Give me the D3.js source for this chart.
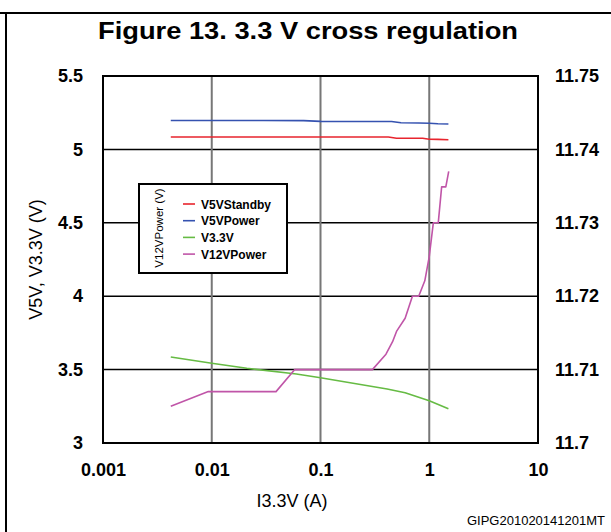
<!DOCTYPE html>
<html>
<head>
<meta charset="utf-8">
<script src="https://cdn.jsdelivr.net/npm/d3@7"></script>
<style>
  body { margin: 0; background: #fff; }
  svg { display: block; font-family: "Liberation Sans", Arial, sans-serif; }
</style>
</head>
<body>
<svg id="chart" width="611" height="532"></svg>
<script>
// data
const xTicks = [0.001, 0.01, 0.1, 1, 10];
const xTickLabels = ["0.001", "0.01", "0.1", "1", "10"];
const leftTicks = [3, 3.5, 4, 4.5, 5, 5.5];
const leftTickLabels = ["3", "3.5", "4", "4.5", "5", "5.5"];
const rightTicks = [11.7, 11.71, 11.72, 11.73, 11.74, 11.75];
const rightTickLabels = ["11.7", "11.71", "11.72", "11.73", "11.74", "11.75"];

const standbyI = [0.0042, 0.01, 0.03, 0.1, 0.2, 0.3, 0.42, 0.5, 0.7, 0.87, 1.0, 1.2, 1.5];
const standbyV = [5.084, 5.084, 5.084, 5.084, 5.084, 5.084, 5.084, 5.076, 5.076, 5.076, 5.069, 5.068, 5.066];

const powerI = [0.0042, 0.01, 0.03, 0.07, 0.1, 0.2, 0.3, 0.45, 0.55, 0.8, 1.0, 1.2, 1.5];
const powerV = [5.197, 5.197, 5.197, 5.196, 5.191, 5.19, 5.19, 5.19, 5.182, 5.18, 5.178, 5.175, 5.173];

const v33I = [0.0042, 0.01, 0.021, 0.06, 0.1, 0.41, 0.6, 1.0, 1.5];
const v33V = [3.586, 3.543, 3.509, 3.47, 3.445, 3.368, 3.342, 3.288, 3.234];

const v12I = [0.0042, 0.0093, 0.039, 0.058, 0.30, 0.40, 0.46, 0.50, 0.60, 0.70, 0.80, 0.91, 1.0, 1.09, 1.21, 1.30, 1.42, 1.51];
const v12V = [11.705, 11.707, 11.707, 11.71, 11.71, 11.7121, 11.7138, 11.7152, 11.717, 11.72, 11.72, 11.7221, 11.7254, 11.73, 11.73, 11.7349, 11.7349, 11.737];

const seriesNames = ["V5VStandby", "V5VPower", "V3.3V", "V12VPower"];
const seriesColors = ["#e8252e", "#3552b0", "#66bb44", "#c055a8"];

const svg = d3.select("#chart");
const W = 611, H = 532;
const plot = { left: 103, right: 538, top: 76, bottom: 443 };

const x = d3.scaleLog().domain([0.001, 10]).range([plot.left, plot.right]);
const yL = d3.scaleLinear().domain([3, 5.5]).range([plot.bottom, plot.top]);
const yR = d3.scaleLinear().domain([11.7, 11.75]).range([plot.bottom, plot.top]);

// outer frame (top + left)
svg.append("line").attr("x1", 0).attr("x2", W).attr("y1", 13).attr("y2", 13)
  .attr("stroke", "#000").attr("stroke-width", 2);
svg.append("line").attr("x1", 6).attr("x2", 6).attr("y1", 12).attr("y2", H)
  .attr("stroke", "#000").attr("stroke-width", 2);

// title
svg.append("text")
  .attr("x", 308).attr("y", 39)
  .attr("text-anchor", "middle")
  .attr("font-size", 23).attr("font-weight", "bold")
  .attr("textLength", 420).attr("lengthAdjust", "spacingAndGlyphs")
  .text("Figure 13. 3.3 V cross regulation");

// grid
svg.append("g").selectAll("line").data(leftTicks.slice(1, -1)).join("line")
  .attr("x1", plot.left).attr("x2", plot.right)
  .attr("y1", d => yL(d)).attr("y2", d => yL(d))
  .attr("stroke", "#000").attr("stroke-width", 1.5);
svg.append("g").selectAll("line").data(xTicks.slice(1, -1)).join("line")
  .attr("x1", d => x(d)).attr("x2", d => x(d))
  .attr("y1", plot.top).attr("y2", plot.bottom)
  .attr("stroke", "#777").attr("stroke-width", 2);

svg.append("rect")
  .attr("x", plot.left).attr("y", plot.top)
  .attr("width", plot.right - plot.left).attr("height", plot.bottom - plot.top)
  .attr("fill", "none").attr("stroke", "#000").attr("stroke-width", 2);

// axes
function styleAxis(g) {
  g.select(".domain").remove();
  g.selectAll(".tick line").remove();
  g.selectAll("text")
    .attr("font-family", "Liberation Sans, Arial, sans-serif")
    .attr("font-size", 18).attr("font-weight", "bold").attr("fill", "#000");
}

svg.append("g")
  .attr("transform", `translate(${plot.left},0)`)
  .call(d3.axisLeft(yL).tickValues(leftTicks).tickFormat((d, i) => leftTickLabels[i]).tickSize(0).tickPadding(20))
  .call(styleAxis);

svg.append("g")
  .attr("transform", `translate(${plot.right},0)`)
  .call(d3.axisRight(yR).tickValues(rightTicks).tickFormat((d, i) => rightTickLabels[i]).tickSize(0).tickPadding(17))
  .call(styleAxis);

svg.append("g")
  .attr("transform", `translate(0,${plot.bottom})`)
  .call(d3.axisBottom(x).tickValues(xTicks).tickFormat((d, i) => xTickLabels[i]).tickSize(0).tickPadding(20))
  .call(styleAxis);

// axis titles
svg.append("text")
  .attr("transform", `translate(42,${(plot.top + plot.bottom) / 2}) rotate(-90)`)
  .attr("text-anchor", "middle").attr("font-size", 18)
  .text("V5V, V3.3V (V)");
svg.append("text")
  .attr("x", 292).attr("y", 507)
  .attr("text-anchor", "middle").attr("font-size", 18)
  .text("I3.3V (A)");
svg.append("text")
  .attr("x", 605).attr("y", 525)
  .attr("text-anchor", "end").attr("font-size", 13)
  .text("GIPG201020141201MT");

// series
const lineL = d3.line().x(d => x(d[0])).y(d => yL(d[1]));
const lineR = d3.line().x(d => x(d[0])).y(d => yR(d[1]));
const series = [
  { pts: d3.zip(standbyI, standbyV), gen: lineL },
  { pts: d3.zip(powerI, powerV), gen: lineL },
  { pts: d3.zip(v33I, v33V), gen: lineL },
  { pts: d3.zip(v12I, v12V), gen: lineR }
];
series.forEach((s, i) => {
  svg.append("path")
    .attr("d", s.gen(s.pts))
    .attr("fill", "none")
    .attr("stroke", seriesColors[i])
    .attr("stroke-width", 1.6)
    .attr("stroke-linejoin", "round");
});

// legend
const lg = svg.append("g");
lg.append("rect")
  .attr("x", 139).attr("y", 184).attr("width", 148).attr("height", 89)
  .attr("fill", "#fff").attr("stroke", "#000").attr("stroke-width", 2);
lg.append("text")
  .attr("transform", "translate(163,228) rotate(-90)")
  .attr("text-anchor", "middle").attr("font-size", 11.5)
  .text("V12VPower (V)");
seriesNames.forEach((name, i) => {
  const yy = 204 + i * 16.7;
  lg.append("line")
    .attr("x1", 183).attr("x2", 195).attr("y1", yy).attr("y2", yy)
    .attr("stroke", seriesColors[i]).attr("stroke-width", 1.6);
  lg.append("text")
    .attr("x", 201).attr("y", yy + 4.5)
    .attr("font-size", 12).attr("font-weight", "bold")
    .text(name);
});
</script>
</body>
</html>
